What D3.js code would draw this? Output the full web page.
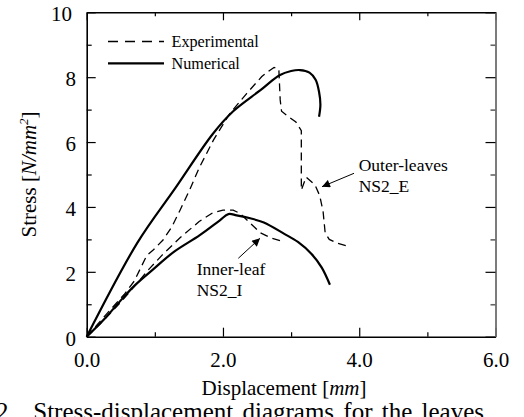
<!DOCTYPE html>
<html>
<head>
<meta charset="utf-8">
<script src="https://cdn.jsdelivr.net/npm/d3@7"></script>
<style>
  html, body { margin: 0; padding: 0; background: #fff; }
  svg { display: block; font-family: "Liberation Serif", "Times New Roman", serif; }
</style>
</head>
<body>
<svg id="chart" width="524" height="417"></svg>
<script>
// Stress–displacement curves, outer leaves (NS2_E) and inner leaf (NS2_I)
const outerNumX = [0, 0.745, 1.3, 1.85, 2.15, 2.55, 2.83, 3.0, 3.13, 3.27, 3.36, 3.41, 3.43, 3.41];
const outerNumY = [0, 2.9, 4.58, 6.25, 6.95, 7.6, 8.06, 8.19, 8.22, 8.14, 7.92, 7.55, 7.15, 6.78];

const outerExpX = [0, 0.3, 0.55, 0.7, 0.88, 0.98, 1.12, 1.25, 1.37, 1.51, 1.65, 1.86, 2.1, 2.35, 2.57, 2.68, 2.75, 2.82, 2.84, 2.86, 2.95, 3.07, 3.15, 3.15, 3.22, 3.35, 3.42, 3.47, 3.5, 3.56, 3.68, 3.82];
const outerExpY = [0, 0.72, 1.3, 1.72, 2.5, 2.68, 2.98, 3.39, 3.9, 4.52, 5.2, 6.06, 6.88, 7.5, 8.02, 8.2, 8.3, 8.25, 7.3, 6.95, 6.8, 6.62, 6.35, 4.52, 4.92, 4.68, 4.35, 3.85, 3.2, 3.0, 2.88, 2.8];

const innerNumX = [0, 0.27, 0.5, 0.71, 1.0, 1.27, 1.66, 1.95, 2.08, 2.2, 2.4, 2.6, 2.9, 3.1, 3.3, 3.45, 3.57];
const innerNumY = [0, 0.57, 1.12, 1.59, 2.12, 2.6, 3.13, 3.58, 3.78, 3.74, 3.65, 3.52, 3.17, 2.92, 2.55, 2.13, 1.6];

const innerExpX = [0, 0.2, 0.45, 0.7, 0.9, 1.1, 1.37, 1.65, 1.85, 2.0, 2.15, 2.25, 2.4, 2.55, 2.7, 2.88];
const innerExpY = [0, 0.4, 0.95, 1.55, 2.05, 2.5, 3.05, 3.55, 3.82, 3.9, 3.9, 3.8, 3.5, 3.2, 3.05, 2.93];

const xMajor = [0, 2, 4, 6];
const xMinor = [1, 3, 5];
const yMajor = [0, 2, 4, 6, 8, 10];
const yMinor = [1, 3, 5, 7, 9];

const legendLabels = ["Experimental", "Numerical"];

const svg = d3.select("#chart");
const pLeft = 86.7, pRight = 495.5, pTop = 12.3, pBottom = 336.7;
const x = d3.scaleLinear().domain([0, 6]).range([pLeft, pRight]);
const y = d3.scaleLinear().domain([0, 10]).range([pBottom, pTop]);

const zip = (xs, ys) => xs.map((v, i) => [v, ys[i]]);

// ---- axes (ticks point inward on all four sides) ----
function styleAxis(g, strokeW) {
  g.selectAll("path.domain").attr("stroke", "#000").attr("stroke-width", strokeW);
  g.selectAll(".tick line").attr("stroke", "#000").attr("stroke-width", 1.2);
}

const gBottom = svg.append("g").attr("transform", `translate(0,${pBottom})`)
  .call(d3.axisBottom(x).tickValues(xMajor).tickSize(-9).tickSizeOuter(0)
    .tickPadding(15).tickFormat(d3.format(".1f")));
gBottom.selectAll("text").attr("font-size", 21).attr("fill", "#000")
  .attr("font-family", "Liberation Serif");
styleAxis(gBottom, 1.6);
svg.append("g").attr("transform", `translate(0,${pBottom})`)
  .call(d3.axisBottom(x).tickValues(xMinor).tickSize(-4.5).tickFormat(""))
  .call(g => { g.select("path.domain").remove(); styleAxis(g, 1); });

const gTop = svg.append("g").attr("transform", `translate(0,${pTop})`)
  .call(d3.axisTop(x).tickValues(xMajor).tickSize(-8).tickSizeOuter(0).tickFormat(""));
styleAxis(gTop, 1.6);
svg.append("g").attr("transform", `translate(0,${pTop})`)
  .call(d3.axisTop(x).tickValues(xMinor).tickSize(-4).tickFormat(""))
  .call(g => { g.select("path.domain").remove(); styleAxis(g, 1); });

const gLeft = svg.append("g").attr("transform", `translate(${pLeft},0)`)
  .call(d3.axisLeft(y).tickValues(yMajor).tickSize(-9).tickSizeOuter(0)
    .tickPadding(10.7).tickFormat(d3.format("d")));
gLeft.selectAll("text").attr("font-size", 21).attr("fill", "#000")
  .attr("font-family", "Liberation Serif").attr("dy", "0.4em")
  .attr("dx", d => d >= 10 ? -4 : 0);
styleAxis(gLeft, 1.6);
svg.append("g").attr("transform", `translate(${pLeft},0)`)
  .call(d3.axisLeft(y).tickValues(yMinor).tickSize(-5).tickFormat(""))
  .call(g => { g.select("path.domain").remove(); styleAxis(g, 1); });

const gRight = svg.append("g").attr("transform", `translate(${pRight},0)`)
  .call(d3.axisRight(y).tickValues(yMajor).tickSize(-10).tickSizeOuter(0).tickFormat(""));
styleAxis(gRight, 1.8);
gRight.select("path.domain").attr("stroke", "#6e6e6e");
svg.append("g").attr("transform", `translate(${pRight},0)`)
  .call(d3.axisRight(y).tickValues(yMinor).tickSize(-5).tickFormat(""))
  .call(g => { g.select("path.domain").remove(); styleAxis(g, 1);
               g.selectAll(".tick line").attr("stroke", "#666").attr("stroke-width", 1.6); });

// ---- curves ----
const smooth = d3.line().x(d => x(d[0])).y(d => y(d[1])).curve(d3.curveCatmullRom.alpha(0.5));
const straight = d3.line().x(d => x(d[0])).y(d => y(d[1]));

const dash = "8,5";
svg.append("path").datum(zip(outerExpX, outerExpY)).attr("d", straight)
  .attr("fill", "none").attr("stroke", "#000").attr("stroke-width", 1.3)
  .attr("stroke-dasharray", dash);
svg.append("path").datum(zip(innerExpX, innerExpY)).attr("d", straight)
  .attr("fill", "none").attr("stroke", "#000").attr("stroke-width", 1.3)
  .attr("stroke-dasharray", dash);
svg.append("path").datum(zip(outerNumX, outerNumY)).attr("d", smooth)
  .attr("fill", "none").attr("stroke", "#000").attr("stroke-width", 2.2);
svg.append("path").datum(zip(innerNumX, innerNumY)).attr("d", smooth)
  .attr("fill", "none").attr("stroke", "#000").attr("stroke-width", 2.2);

// ---- legend ----
const legend = svg.append("g");
legend.append("line").attr("x1", 108).attr("x2", 164).attr("y1", 41.5).attr("y2", 41.5)
  .attr("stroke", "#000").attr("stroke-width", 1.3).attr("stroke-dasharray", "10,7");
legend.append("line").attr("x1", 108).attr("x2", 164).attr("y1", 63.3).attr("y2", 63.3)
  .attr("stroke", "#000").attr("stroke-width", 2.2);
legend.selectAll("text").data(legendLabels).join("text")
  .attr("x", 171.5).attr("y", (d, i) => 47 + i * 21.8)
  .attr("font-size", 16.2).attr("fill", "#000").text(d => d);

// ---- annotations ----
svg.append("defs").append("marker").attr("id", "tip")
  .attr("viewBox", "0 0 10 10").attr("refX", 10).attr("refY", 5)
  .attr("markerWidth", 10).attr("markerHeight", 8).attr("markerUnits", "userSpaceOnUse")
  .attr("orient", "auto")
  .append("path").attr("d", "M0,0 L10,5 L0,10 Z").attr("fill", "#000");

svg.append("line").attr("x1", 354).attr("y1", 173.3).attr("x2", 322).attr("y2", 186.7)
  .attr("stroke", "#000").attr("stroke-width", 1).attr("marker-end", "url(#tip)");
svg.append("line").attr("x1", 238.3).attr("y1", 258.3).attr("x2", 260).attr("y2", 238.3)
  .attr("stroke", "#000").attr("stroke-width", 1).attr("marker-end", "url(#tip)");

const note = (lines, x0, y0) => svg.append("g").selectAll("text").data(lines).join("text")
  .attr("x", x0).attr("y", (d, i) => y0 + i * 21.2)
  .attr("font-size", 17.5).attr("fill", "#000").text(d => d);
note(["Outer-leaves", "NS2_E"], 358.7, 170.5);
note(["Inner-leaf", "NS2_I"], 196.7, 274.5);

// ---- axis titles ----
const xt = svg.append("text").attr("x", 284).attr("y", 395).attr("text-anchor", "middle")
  .attr("font-size", 21).attr("fill", "#000");
xt.append("tspan").text("Displacement [");
xt.append("tspan").attr("font-style", "italic").text("mm");
xt.append("tspan").text("]");

const yt = svg.append("text").attr("transform", "translate(36,174.5) rotate(-90)")
  .attr("text-anchor", "middle").attr("font-size", 21).attr("fill", "#000");
yt.append("tspan").text("Stress [");
yt.append("tspan").attr("font-style", "italic").text("N/mm");
yt.append("tspan").attr("font-style", "italic").attr("font-size", 13).attr("dy", -8).text("2");
yt.append("tspan").attr("dy", 8).text("]");

// ---- figure caption (runs off the bottom edge) ----
svg.append("text").attr("x", -4).attr("y", 420).attr("font-size", 25).attr("fill", "#000")
  .attr("xml:space", "preserve").style("white-space", "pre").attr("word-spacing", 3)
  .text("2.  Stress-displacement diagrams for the leaves");
</script>
</body>
</html>
